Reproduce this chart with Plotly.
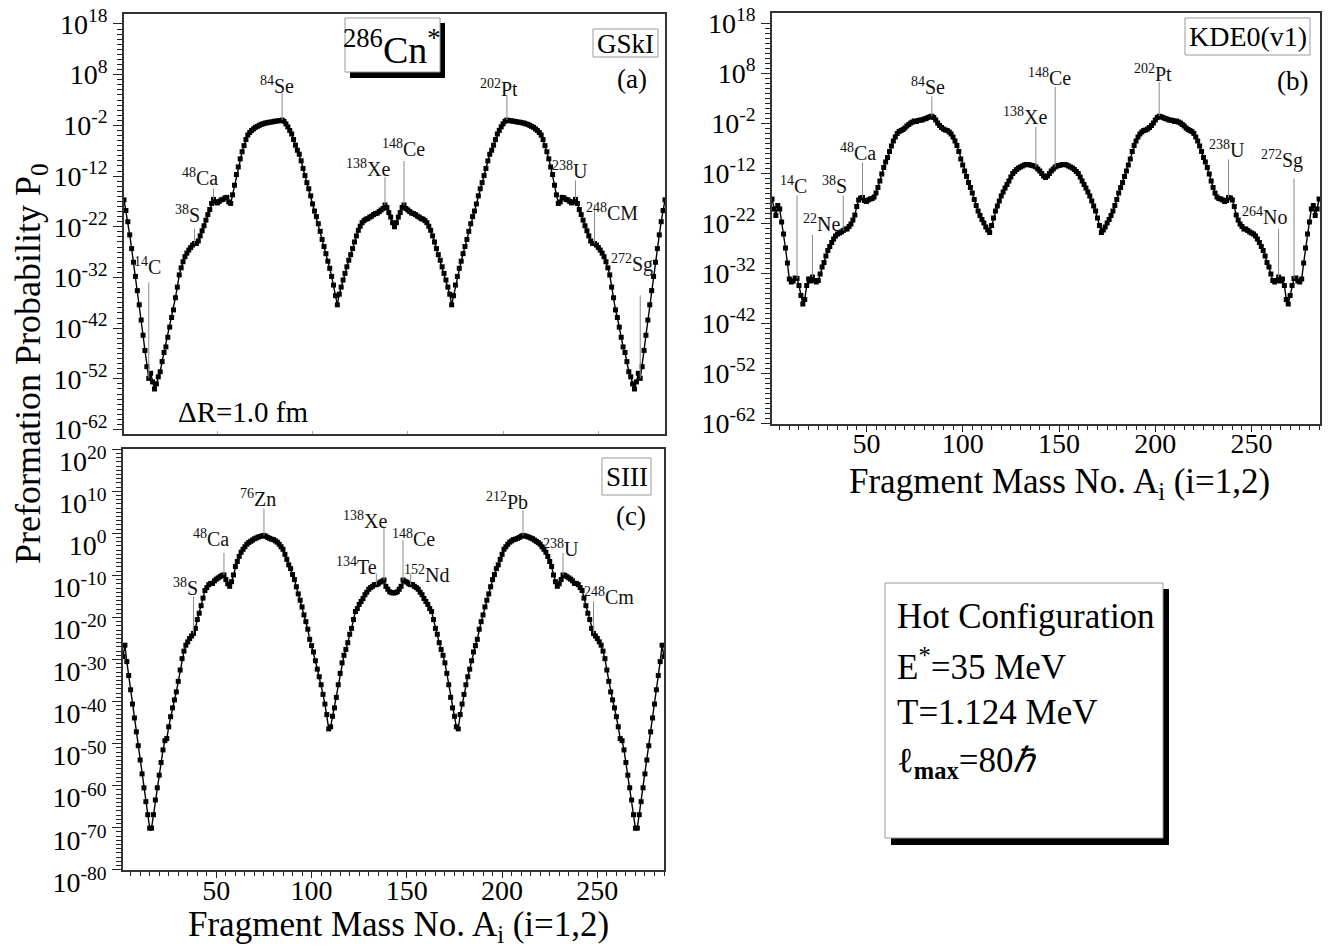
import plotly.graph_objects as go

W, H = 1343, 949
FONT = "Liberation Serif, Times New Roman, serif"

# ---------------- data ----------------
A = list(range(1, 286))

# log10 of preformation probability P0 (A = 1..285)
logP_GSkI = [
    -16.7, -18.8, -21.0, -23.6, -26.3, -29.0, -31.8, -34.6, -37.4, -40.4,
    -43.4, -46.4, -49.6, -51.9, -50.9, -52.6, -54.0, -53.0, -51.6, -50.6,
    -48.6, -46.8, -45.7, -43.8, -41.8, -39.9, -38.4, -36.0, -33.9, -31.5,
    -30.1, -28.9, -27.9, -27.2, -26.6, -26.1, -25.6, -25.3, -25.3, -24.8,
    -23.8, -22.8, -21.8, -20.7, -19.6, -18.6, -17.4, -16.6, -17.1, -17.3,
    -17.0, -16.7, -16.6, -16.3, -16.2, -17.1, -17.4, -15.7, -13.8, -11.7,
    -10.2, -8.6, -7.2, -6.0, -4.8, -3.9, -3.4, -3.0, -2.7, -2.4,
    -2.2, -2.0, -1.8, -1.7, -1.55, -1.5, -1.4, -1.35, -1.3, -1.2,
    -1.15, -1.1, -1.05, -0.95, -1.2, -1.7, -2.3, -3.0, -3.7, -4.8,
    -5.9, -6.9, -7.7, -9.0, -10.5, -11.9, -13.3, -14.5, -15.9, -17.5,
    -18.9, -20.0, -21.4, -22.9, -24.5, -25.9, -27.3, -28.8, -30.2, -31.8,
    -33.5, -35.6, -37.4, -35.3, -33.9, -32.5, -31.2, -29.9, -28.6, -27.5,
    -26.3, -25.0, -23.8, -22.7, -21.9, -21.2, -20.8, -20.5, -20.4, -20.1,
    -19.9, -19.6, -19.4, -19.3, -19.0, -18.7, -18.4, -17.7, -18.2, -19.2,
    -20.1, -21.2, -22.0,
    -21.2, -20.1, -19.2, -18.2, -17.7, -18.4, -18.7, -19.0, -19.3, -19.4,
    -19.6, -19.9, -20.1, -20.4, -20.5, -20.8, -21.2, -21.9, -22.7, -23.8,
    -25.0, -26.3, -27.5, -28.6, -29.9, -31.2, -32.5, -33.9, -35.3, -37.4,
    -35.6, -33.5, -31.8, -30.2, -28.8, -27.3, -25.9, -24.5, -22.9, -21.4,
    -20.0, -18.9, -17.5, -15.9, -14.5, -13.3, -11.9, -10.5, -9.0, -7.7,
    -6.9, -5.9, -4.8, -3.7, -3.0, -2.3, -1.7, -1.2, -0.95, -1.05,
    -1.1, -1.15, -1.2, -1.3, -1.35, -1.4, -1.5, -1.55, -1.7, -1.8,
    -2.0, -2.2, -2.4, -2.7, -3.0, -3.4, -3.9, -4.8, -6.0, -7.2,
    -8.6, -10.2, -11.7, -13.8, -15.7, -17.4, -17.1, -16.2, -16.3, -16.6,
    -16.7, -17.0, -17.3, -17.1, -16.6, -17.4, -18.6, -19.6, -20.7, -21.8,
    -22.8, -23.8, -24.8, -25.3, -25.3, -25.6, -26.1, -26.6, -27.2, -27.9,
    -28.9, -30.1, -31.5, -33.9, -36.0, -38.4, -39.9, -41.8, -43.8, -45.7,
    -46.8, -48.6, -50.6, -51.6, -53.0, -54.0, -52.6, -50.9, -51.9, -49.6,
    -46.4, -43.4, -40.4, -37.4, -34.6, -31.8, -29.0, -26.3, -23.6, -21.0,
    -18.8, -16.7,
]

logP_KDE0 = [
    -17.2, -19.2, -20.5, -18.5, -19.2, -21.8, -24.2, -27.0, -30.0, -33.2,
    -33.8, -33.6, -33.0, -33.1, -34.5, -36.5, -38.2, -37.3, -34.5, -33.2,
    -33.6, -32.8, -33.5, -33.8, -33.5, -32.2, -30.8, -29.9, -28.6, -27.5,
    -26.7, -25.9, -25.2, -24.6, -24.2, -24.0, -23.8, -23.5, -23.2, -23.2,
    -22.7, -22.2, -21.4, -20.4, -18.7, -17.4, -17.0, -16.9, -17.5, -17.7,
    -17.4, -17.2, -17.1, -16.8, -16.0, -14.9, -13.6, -12.2, -10.9, -9.8,
    -8.9, -7.7, -6.6, -5.6, -4.8, -4.1, -3.7, -3.5, -3.3, -3.0,
    -2.6, -2.3, -2.0, -1.8, -1.6, -1.7, -1.5, -1.4, -1.4, -1.2,
    -1.1, -0.9, -0.75, -0.65, -0.9, -1.4, -2.0, -2.5, -2.9, -3.2,
    -3.4, -3.5, -3.8, -4.2, -4.8, -5.6, -6.5, -7.7, -9.2, -10.4,
    -11.6, -12.7, -13.9, -14.9, -16.0, -17.3, -18.5, -19.6, -20.5, -21.3,
    -22.0, -22.8, -23.4, -23.9, -22.5, -21.0, -19.6, -18.6, -17.6, -16.6,
    -15.8, -15.0, -14.3, -13.6, -12.8, -12.1, -11.7, -11.3, -11.0, -10.8,
    -10.6, -10.4, -10.3, -10.3, -10.4, -10.5, -10.6, -10.8, -11.2, -11.6,
    -12.1, -12.6, -12.9,
    -12.6, -12.1, -11.6, -11.2, -10.8, -10.6, -10.5, -10.4, -10.3, -10.3,
    -10.4, -10.6, -10.8, -11.0, -11.3, -11.7, -12.1, -12.8, -13.6, -14.3,
    -15.0, -15.8, -16.6, -17.6, -18.6, -19.6, -21.0, -22.5, -23.9, -23.4,
    -22.8, -22.0, -21.3, -20.5, -19.6, -18.5, -17.3, -16.0, -14.9, -13.9,
    -12.7, -11.6, -10.4, -9.2, -7.7, -6.5, -5.6, -4.8, -4.2, -3.8,
    -3.5, -3.4, -3.2, -2.9, -2.5, -2.0, -1.4, -0.9, -0.65, -0.75,
    -0.9, -1.1, -1.2, -1.4, -1.4, -1.5, -1.7, -1.6, -1.8, -2.0,
    -2.3, -2.6, -3.0, -3.3, -3.5, -3.7, -4.1, -4.8, -5.6, -6.6,
    -7.7, -8.9, -9.8, -10.9, -12.2, -13.6, -14.9, -16.0, -16.8, -17.1,
    -17.2, -17.4, -17.7, -17.5, -16.9, -17.0, -17.4, -18.7, -20.4, -21.4,
    -22.2, -22.7, -23.2, -23.2, -23.5, -23.8, -24.0, -24.2, -24.6, -25.2,
    -25.9, -26.7, -27.5, -28.6, -29.9, -30.8, -32.2, -33.5, -33.8, -33.5,
    -32.8, -33.6, -33.2, -34.5, -37.3, -38.2, -36.5, -34.5, -33.1, -33.0,
    -33.6, -33.8, -33.2, -30.0, -27.0, -24.2, -21.8, -19.2, -18.5, -20.5,
    -19.2, -17.2,
]

logP_SIII = [
    -29.3, -26.6, -30.5, -33.8, -37.2, -40.6, -43.9, -47.2, -50.5, -53.9,
    -57.2, -60.5, -63.8, -66.9, -70.1, -70.1, -66.9, -63.4, -60.5, -57.5,
    -54.5, -51.5, -49.3, -48.8, -46.0, -43.6, -41.5, -39.6, -37.7, -35.2,
    -32.5, -29.8, -28.0, -26.6, -25.8, -25.0, -24.4, -23.8, -22.6, -20.5,
    -19.0, -17.2, -15.4, -13.6, -12.9, -12.2, -11.9, -11.9, -11.3, -10.9,
    -10.6, -10.3, -10.0, -9.9, -11.0, -12.0, -12.6, -11.5, -9.9, -7.9,
    -6.7, -5.5, -4.5, -3.8, -3.2, -2.6, -2.2, -1.9, -1.6, -1.3,
    -1.1, -0.9, -0.75, -0.6, -0.5, -0.7, -1.0, -1.2, -1.4, -1.5,
    -1.8, -2.1, -2.6, -3.2, -3.8, -5.0, -6.2, -7.5, -8.4, -9.8,
    -11.0, -12.7, -14.4, -15.9, -17.5, -19.4, -21.0, -22.8, -25.2, -26.7,
    -28.2, -30.3, -32.3, -34.1, -36.0, -38.3, -40.6, -43.1, -46.5, -46.0,
    -43.5, -41.5, -39.0, -36.0, -33.3, -30.8, -29.0, -27.6, -26.0, -24.0,
    -22.6, -20.5, -18.6, -17.9, -16.9, -16.2, -15.5, -14.6, -14.0, -13.3,
    -12.9, -12.6, -12.2, -12.2, -12.0, -11.6, -11.4, -11.1, -12.6, -13.3,
    -13.9, -14.1, -14.2,
    -14.1, -13.9, -13.3, -12.6, -11.1, -11.4, -11.6, -12.0, -12.2, -12.2,
    -12.6, -12.9, -13.3, -14.0, -14.6, -15.5, -16.2, -16.9, -17.9, -18.6,
    -20.5, -22.6, -24.0, -26.0, -27.6, -29.0, -30.8, -33.3, -36.0, -39.0,
    -41.5, -43.5, -46.0, -46.5, -43.1, -40.6, -38.3, -36.0, -34.1, -32.3,
    -30.3, -28.2, -26.7, -25.2, -22.8, -21.0, -19.4, -17.5, -15.9, -14.4,
    -12.7, -11.0, -9.8, -8.4, -7.5, -6.2, -5.0, -3.8, -3.2, -2.6,
    -2.1, -1.8, -1.5, -1.4, -1.2, -1.0, -0.7, -0.5, -0.6, -0.75,
    -0.9, -1.1, -1.3, -1.6, -1.9, -2.2, -2.6, -3.2, -3.8, -4.5,
    -5.5, -6.7, -7.9, -9.9, -11.5, -12.6, -12.0, -11.0, -9.9, -10.0,
    -10.3, -10.6, -10.9, -11.3, -11.9, -11.9, -12.2, -12.9, -13.6, -15.4,
    -17.2, -19.0, -20.5, -22.6, -23.8, -24.4, -25.0, -25.8, -26.6, -28.0,
    -29.8, -32.5, -35.2, -37.7, -39.6, -41.5, -43.6, -46.0, -48.8, -49.3,
    -51.5, -54.5, -57.5, -60.5, -63.4, -66.9, -70.1, -70.1, -66.9, -63.8,
    -60.5, -57.2, -53.9, -50.5, -47.2, -43.9, -40.6, -37.2, -33.8, -30.5,
    -26.6, -29.3,
]

# axis ticks (exponents) and x ticks
y_exp_ab = [18, 8, -2, -12, -22, -32, -42, -52, -62]
y_exp_c = [20, 10, 0, -10, -20, -30, -40, -50, -60, -70, -80]
x_ticks = [50, 100, 150, 200, 250]

# isotope labels: (A where the pointer line sits, mass number, symbol)
labels_a = [(14, "14", "C"), (38, "38", "S"), (48, "48", "Ca"), (84, "84", "Se"),
            (138, "138", "Xe"), (148, "148", "Ce"), (202, "202", "Pt"),
            (238, "238", "U"), (248, "248", "CM"), (272, "272", "Sg")]
labels_b = [(14, "14", "C"), (22, "22", "Ne"), (38, "38", "S"), (48, "48", "Ca"),
            (84, "84", "Se"), (138, "138", "Xe"), (148, "148", "Ce"),
            (202, "202", "Pt"), (238, "238", "U"), (264, "264", "No"), (272, "272", "Sg")]
labels_c = [(38, "38", "S"), (54, "48", "Ca"), (75, "76", "Zn"), (134, "134", "Te"),
            (138, "138", "Xe"), (148, "148", "Ce"), (152, "152", "Nd"),
            (211, "212", "Pb"), (232, "238", "U"), (248, "248", "Cm")]

# ---------------- styling: label offsets in px (line length, text dx, text dy) ----------------
offs_a = [(96, -1, 112), (15, -7, 29), (11, -14, 22), (27, -5, 35), (28, -17, 37),
          (44, -1, 57), (24, -8, 32), (19, -5, 29), (39, 17, 31), (83, -8, 115)]
offs_b = [(83, -4, 94), (42, 9, 54), (35, -9, 46), (35, -5, 46), (20, -4, 30),
          (40, -11, 51), (80, -6, 90), (34, -6, 43), (38, -2, 49), (48, -14, 61), (100, -12, 119)]
offs_c = [(37, -8, 46), (22, -13, 37), (27, -6, 37), (11, -20, 19), (53, -19, 60),
          (40, 10, 42), (11, 16, 11), (25, -16, 34), (22, -2, 27), (32, 15, 37)]

# panel geometry in px: (left, top, right, bottom), y ranges (log10), x ranges
geom = {
    "a": ((124, 14, 665, 434), [-62.88, 19.97], (1, 285)),
    "b": ((772, 13, 1320, 424), [-62.2, 20.0], (1, 285.5)),
    "c": ((123, 449, 664, 870), [-80.05, 20.05], (1, 285)),
}


def px(x):
    return x / W


def py(y):
    return 1 - y / H


fig = go.Figure()

panels = [("x", "y", logP_GSkI, "a"), ("x2", "y2", logP_KDE0, "b"), ("x3", "y3", logP_SIII, "c")]
for xa, ya, lp, key in panels:
    fig.add_trace(go.Scatter(
        x=A, y=[10 ** v for v in lp], xaxis=xa, yaxis=ya, mode="lines+markers",
        line=dict(color="black", width=1.4),
        marker=dict(symbol="square", size=5, color="black"),
        showlegend=False, hoverinfo="skip"))

axis_common = dict(showline=True, mirror=True, linecolor="#333", linewidth=1.6,
                   showgrid=False, zeroline=False)


def yaxis_cfg(exps, key, anchor, shift=0):
    (l, t, r, b), rng, _ = geom[key]
    lo, hi = min(exps), max(exps)
    return dict(type="log", range=rng, domain=[py(b), py(t)], anchor=anchor,
                tickvals=[10.0 ** e for e in exps],
                ticktext=["10<sup>%d</sup>" % e for e in exps],
                ticks="outside", ticklen=9, tickwidth=1.2, tickcolor="#222",
                minor=dict(tickvals=[10.0 ** e for e in range(lo, hi + 1)],
                           ticks="outside", ticklen=5, tickwidth=1, tickcolor="#222"),
                tickfont=dict(family=FONT, size=28, color="black"),
                ticklabelshift=shift, **axis_common)


def xaxis_cfg(key, anchor, labels=True, standoff=0):
    (l, t, r, b), _, xr = geom[key]
    d = dict(range=list(xr), domain=[px(l), px(r)], anchor=anchor, tickvals=x_ticks,
             **axis_common)
    if labels:
        d.update(ticks="outside", ticklen=6, tickwidth=1.2, tickcolor="#222",
                 ticktext=[str(t) for t in x_ticks],
                 minor=dict(tickvals=list(range(5, 286, 5)), ticks="outside",
                            ticklen=4, tickwidth=1, tickcolor="#222"),
                 ticklabelstandoff=standoff,
                 tickfont=dict(family=FONT, size=28, color="black"))
    else:
        d.update(ticks="inside", ticklen=3, tickcolor="#aaa", showticklabels=False)
    return d


fig.update_layout(
    width=W, height=H, margin=dict(l=0, r=0, t=0, b=0, autoexpand=False),
    plot_bgcolor="white", paper_bgcolor="white", autosize=False,
    xaxis=xaxis_cfg("a", "y", labels=False),
    yaxis=yaxis_cfg(y_exp_ab, "a", "x"),
    xaxis2=xaxis_cfg("b", "y2", standoff=-12),
    yaxis2=yaxis_cfg(y_exp_ab, "b", "x2"),
    xaxis3=xaxis_cfg("c", "y3", standoff=-11),
    yaxis3=yaxis_cfg(y_exp_c, "c", "x3", shift=12),
)

shapes = []
annotations = []

# isotope labels with pointer lines
for (xa, ya, lp, key), labs, offs in zip(panels, [labels_a, labels_b, labels_c],
                                         [offs_a, offs_b, offs_c]):
    (l, t, r, b), rng, _ = geom[key]
    ppd = (b - t) / (rng[1] - rng[0])   # pixels per decade
    for (a_pos, mass, sym), (L, dx, dy) in zip(labs, offs):
        v = lp[A.index(a_pos)]
        shapes.append(dict(type="line", xref=xa, yref=ya,
                           x0=a_pos, x1=a_pos, y0=10 ** v, y1=10 ** (v + L / ppd),
                           line=dict(color="#8a8a8a", width=1), layer="above"))
        annotations.append(dict(xref=xa, yref=ya, x=a_pos, y=v, xshift=dx, yshift=dy,
                                text="<sup>%s</sup>%s" % (mass, sym), showarrow=False,
                                xanchor="center", yanchor="middle",
                                font=dict(family=FONT, size=20, color="#111")))


def box(x0, y0, x1, y1, shadow=None):
    if shadow:
        shapes.append(dict(type="rect", xref="paper", yref="paper",
                           x0=px(x0 + shadow), x1=px(x1 + shadow),
                           y0=py(y1 + shadow + 1), y1=py(y0 + shadow),
                           fillcolor="black", line=dict(width=0), layer="above"))
    shapes.append(dict(type="rect", xref="paper", yref="paper",
                       x0=px(x0), x1=px(x1), y0=py(y1), y1=py(y0),
                       fillcolor="white", line=dict(color="#9a9a9a", width=1), layer="above"))


def text(x, y, s, size, xanchor="center", color="black", angle=0):
    annotations.append(dict(xref="paper", yref="paper", x=px(x), y=py(y), text=s,
                            showarrow=False, xanchor=xanchor, yanchor="middle",
                            textangle=angle,
                            font=dict(family=FONT, size=size, color=color)))


# panel (a) decorations
box(345, 18, 440, 72, shadow=5)
text(392, 47, "<sup>286</sup>Cn<sup>*</sup>", 38)
box(593, 29, 658, 57)
text(625.5, 44, "GSkI", 27)
text(632, 79, "(a)", 27)
text(243, 412, "\u0394R=1.0 fm", 29)

# panel (b)
box(1185, 18, 1310, 55)
text(1247.5, 37, "KDE0(v1)", 28)
text(1292, 81, "(b)", 27)

# panel (c)
box(602, 458, 651, 495)
text(626.5, 477, "SIII", 27)
text(631, 516, "(c)", 27)

# hot configuration box
box(885, 583, 1163, 838, shadow=6)
text(895, 616, "Hot Configuration", 35, xanchor="left")
text(895, 664, "E<sup>*</sup>=35 MeV", 35, xanchor="left")
text(895, 712, "T=1.124 MeV", 35, xanchor="left")
text(895, 762, "\u2113<sub><b>max</b></sub>=80<i>\u210f</i>", 35, xanchor="left")

# axis titles
text(30, 364, "Preformation Probability P<sub>0</sub>", 36, angle=-90)
text(398, 926, "Fragment Mass No. A<sub>i</sub> (i=1,2)", 35)
text(1059, 483, "Fragment Mass No. A<sub>i</sub> (i=1,2)", 35)

fig.update_layout(shapes=shapes, annotations=annotations)
fig.write_html("out.html")
